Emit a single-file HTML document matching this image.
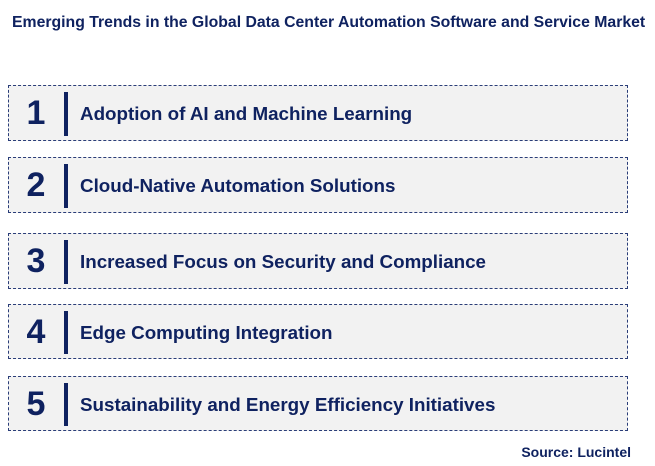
<!DOCTYPE html>
<html><head><style>
body{margin:0;width:655px;height:466px;background:#fff;font-family:"Liberation Sans",Arial,sans-serif;position:relative;overflow:hidden;color:#0f2260}
.t{position:absolute;left:12px;top:14px;font-size:15.8px;font-weight:bold;color:#0f2260;white-space:nowrap}
.b{position:absolute;left:8px;width:620px;border:1.3px dashed #2a3d78;background:#f2f2f2;box-sizing:border-box}
.n{position:absolute;left:7px;width:40px;text-align:center;font-size:34px;font-weight:bold}
.v{position:absolute;left:55px;width:4px;background:#0f2260}
.x{position:absolute;left:71px;font-size:18.8px;font-weight:bold;white-space:nowrap}
.s{position:absolute;right:24px;top:444px;font-size:14px;font-weight:bold}
</style></head><body>
<div class="t">Emerging Trends in the Global Data Center Automation Software and Service Market</div>
<div class="b" style="top:85px;height:56px"><div class="n" style="top:8px">1</div><div class="v" style="top:6px;height:44px"></div><div class="x" style="top:17px">Adoption of AI and Machine Learning</div></div>
<div class="b" style="top:157px;height:56px"><div class="n" style="top:8px">2</div><div class="v" style="top:6px;height:44px"></div><div class="x" style="top:17px">Cloud-Native Automation Solutions</div></div>
<div class="b" style="top:233px;height:56px"><div class="n" style="top:8px">3</div><div class="v" style="top:6px;height:44px"></div><div class="x" style="top:17px">Increased Focus on Security and Compliance</div></div>
<div class="b" style="top:304px;height:55px"><div class="n" style="top:8px">4</div><div class="v" style="top:6px;height:43px"></div><div class="x" style="top:17px">Edge Computing Integration</div></div>
<div class="b" style="top:376px;height:55px"><div class="n" style="top:8px">5</div><div class="v" style="top:6px;height:43px"></div><div class="x" style="top:17px">Sustainability and Energy Efficiency Initiatives</div></div>
<div class="s">Source: Lucintel</div>
</body></html>
